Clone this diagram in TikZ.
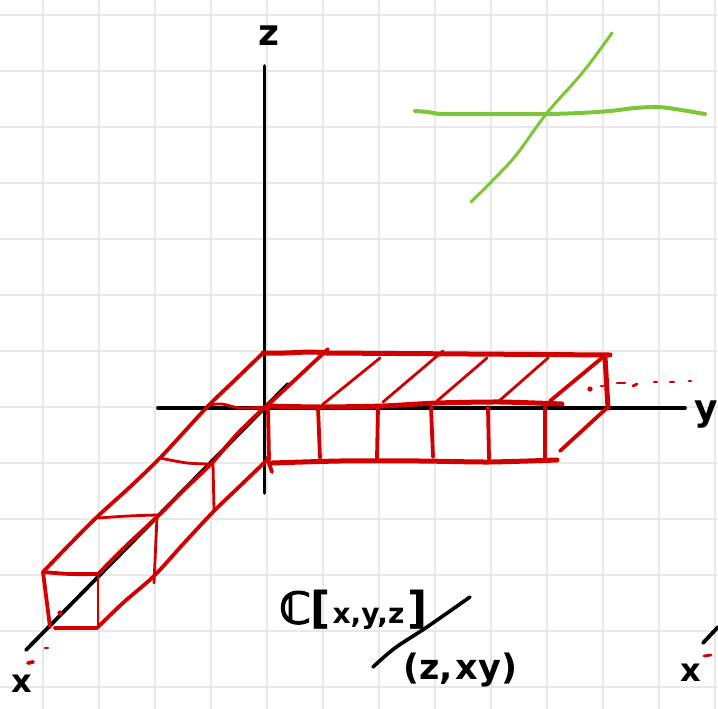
\documentclass[tikz,border=0pt]{standalone}
\usepackage{fontspec}
\setmainfont{DejaVu Sans}[BoldFont={DejaVu Sans Bold}]
\newfontfamily\ringfont[FakeBold=2.5]{DejaVu Sans}
\definecolor{gridc}{HTML}{E8E8E8}
\definecolor{inkred}{HTML}{D00000}
\definecolor{inkgreen}{HTML}{7DC63A}
\tikzset{
  gridline/.style={gridc,line width=2.2pt},
  axis/.style={black,line width=3.8pt,line cap=round,line join=round},
  redthin/.style={inkred,line width=2.8pt,line cap=round,line join=round},
  redmid/.style={inkred,line width=3.8pt,line cap=round,line join=round},
  redthick/.style={inkred,line width=5pt,line cap=round,line join=round},
  greenline/.style={inkgreen,line cap=round,line join=round},
  hand/.style={black,inner sep=0pt,font=\bfseries},
  stroke/.style={black,line width=3.6pt,line cap=round,line join=round}
}
\begin{document}
\begin{tikzpicture}[x=1pt,y=-1pt]
\useasboundingbox (0,0) rectangle (718,709);
\fill[white] (0,0) rectangle (718,709);
% grid
\foreach \gx in {43.3,99.3,155.3,211.3,267.3,323.3,379.3,435.3,491.3,547.3,603.3,659.3,715.3}
  \draw[gridline] (\gx,0) -- (\gx,709);
\foreach \gy in {15,71,127,183,239,295,351,407,463,519,575,631,687}
  \draw[gridline] (0,\gy) -- (718,\gy);
% axes
\draw[axis] (264.5,66) -- (264.5,493);
\draw[axis] (158,408) -- (685,408);
\draw[axis] (288,384) -- (26,650);
\draw[axis] (703,643) -- (718,627);
% red, x-arm long edges
\draw[redmid] plot[smooth,tension=.5] coordinates {(43,572) (70,544) (98,516) (130,487) (160,458) (185,431) (209,405) (235,380) (263,353)};
\draw[redmid] plot[smooth,tension=.5] coordinates {(98,574) (127,545) (157,517) (185,489) (212,463) (238,433) (265,407)};
\draw[redmid] plot[smooth,tension=.5] coordinates {(98,627) (124,602) (154,576) (185,542) (214,511) (240,486) (267,460)};
% cross pieces of the x-arm
\draw[redmid] plot[smooth,tension=.5] coordinates {(43,572) (70,574) (98,574)};
\draw[redthin] plot[smooth,tension=.5] coordinates {(98,518) (128,516) (157,515)};
\draw[redthin] plot[smooth,tension=.5] coordinates {(160,458) (187,463) (212,464)};
\draw[redthin] plot[smooth,tension=.5] coordinates {(208,405) (222,404) (240,408) (265,407)};
\draw[redmid] (43,572) -- (50,627);
\draw[redthin] (98,574) -- (98,627);
\draw[redmid] (55,628) -- (97,628);
\draw[redthin] (157,517) -- (154,583);
\draw[redthin] (213,463) -- (214,510);
\draw[redmid] (268,407) -- (269,460);
% top edge of the corner
\draw[redthick] plot[smooth,tension=.5] coordinates {(263,353) (285,353) (310,352) (328,353)};
\draw[redmid] (267,406) -- (328,349);
% y-arm long edges
\draw[redthick] (327,353) -- (610,355);
\draw[redthick] plot[smooth,tension=.4] coordinates {(267,406) (320,407) (383,406) (437,403) (500,402) (562,404)};
\draw[redthick] plot[smooth,tension=.4] coordinates {(272,463) (340,461) (420,461) (489,462) (557,460)};
\draw[redmid] (267,458) -- (272,472);
% diagonals
\draw[redthin] (322,405) -- (380,358);
\draw[redthin] (383,402) -- (443,351);
\draw[redthin] (437,401) -- (487,358);
\draw[redthin] (499,401) -- (548,358);
\draw[redmid] (550,401) -- (603,357);
% right end
\draw[redthick] (605,357) -- (608,408);
\draw[redmid] (608,407) -- (560,451);
% verticals
\draw[redmid] (318,407) -- (320,458);
\draw[redmid] (378,407) -- (377,458);
\draw[redmid] (431,407) -- (433,457);
\draw[redmid] (488,407) -- (489,459);
\draw[redmid] (545,407) -- (545,458);
% dashes
\fill[inkred] (590,389) circle (2.6pt);
\fill[inkred] (60,613) circle (2.6pt);
\draw[redthin] (601,386) -- (603,386);
\draw[redthin] (617,383) -- (625,383);
\draw[redthin] (633,386) -- (637,384);
\draw[redthin] (654,382) -- (657,382);
\draw[redthin] (670,382) -- (674,382);
\draw[redthin] (689,381) -- (691,381);
\draw[redthin] (45,648) -- (48,648);
\draw[redmid] (28,663) -- (33,662);
\draw[redthin] (704,656) -- (711,655);
% green
\draw[greenline,line width=4pt] plot[smooth,tension=.5] coordinates {(415,111) (428,112) (443,114) (500,114) (547,114) (580,113) (610,111) (635,108) (657,107) (675,109) (705,114)};
\draw[greenline,line width=3pt] plot[smooth,tension=.6] coordinates {(612,33) (583,72) (547,113) (517,154) (497,176) (471,202)};
% labels
\node[hand,font=\bfseries\fontsize{36}{36}\selectfont] (zlabel) at (269,36) {z};
\node[hand,font=\bfseries\fontsize{36}{36}\selectfont] (ylabel) at (706,415) {y};
\node[hand,font=\bfseries\fontsize{32}{32}\selectfont] (xlabel) at (22,684) {x};
\node[hand,font=\bfseries\fontsize{32}{32}\selectfont] (xlabeltwo) at (691,673) {x};
\node[hand,anchor=west] (ring) at (279,610) {{\ringfont\fontsize{44}{44}\selectfont ℂ}\kern-1pt\fontsize{44}{44}\selectfont[\kern2pt\fontsize{28}{28}\selectfont x,y,z\kern3pt\fontsize{44}{44}\selectfont ]};
\node[hand,anchor=west] (ideal) at (403,670) {\fontsize{35}{35}\selectfont (z,\kern3pt xy)};
\draw[stroke] plot[smooth,tension=.6] coordinates {(470,597) (427,627) (395,648) (373,667)};
\end{tikzpicture}
\end{document}
